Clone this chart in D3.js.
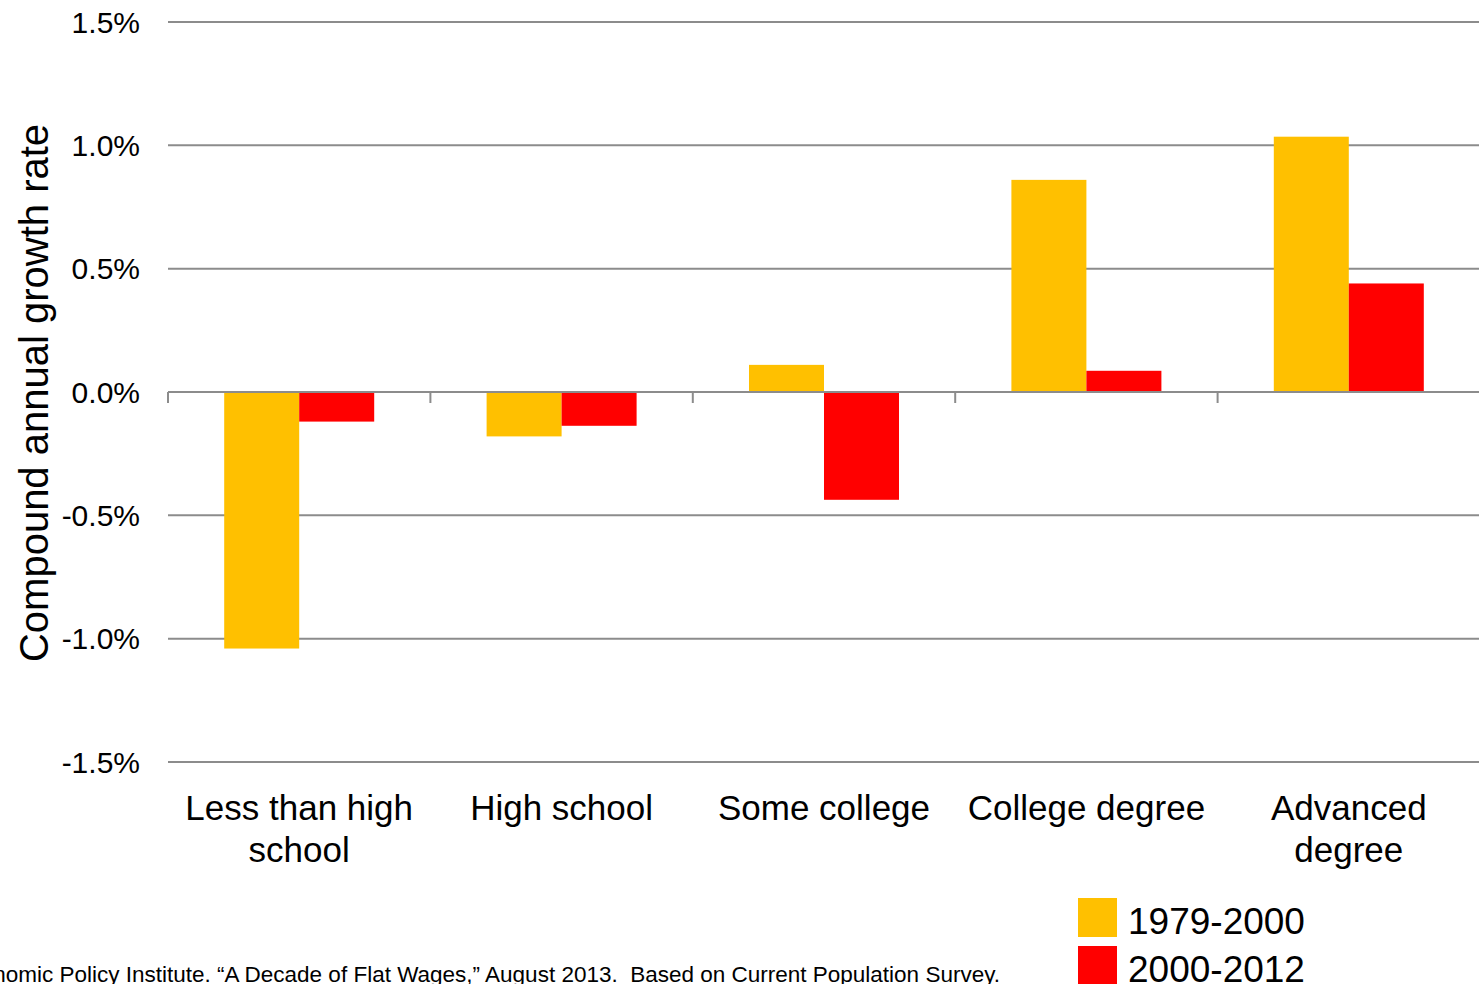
<!DOCTYPE html>
<html>
<head>
<meta charset="utf-8">
<script src="https://cdn.jsdelivr.net/npm/d3@7"></script>
<style>
  html, body { margin: 0; padding: 0; background: #fff; }
  svg { display: block; }
  text { font-family: "Liberation Sans", Arial, sans-serif; fill: #000; }
</style>
</head>
<body>
<svg id="chart" width="1479" height="984"></svg>
<script>
const categories = [["Less than high", "school"], ["High school"], ["Some college"], ["College degree"], ["Advanced", "degree"]];
const seriesNames = ["1979-2000", "2000-2012"];
const series1979 = [-1.04, -0.18, 0.11, 0.86, 1.035];
const series2000 = [-0.12, -0.137, -0.437, 0.086, 0.44];
const tickValues = [-1.5, -1.0, -0.5, 0.0, 0.5, 1.0, 1.5];
const colors = ["#FFC000", "#FF0000"];
const sourceNote = "Source: Economic Policy Institute. \u201CA Decade of Flat Wages,\u201D August 2013.  Based on Current Population Survey.";

const svg = d3.select("#chart");
const plotLeft = 168, plotRight = 1480, plotTop = 22, plotBottom = 762;

const x = d3.scaleBand().domain(d3.range(categories.length)).range([plotLeft, plotRight]).paddingInner(0).paddingOuter(0);
const y = d3.scaleLinear().domain([-1.5, 1.5]).range([plotBottom, plotTop]);
const groupWidth = 150;
const xs = d3.scaleBand().domain(d3.range(seriesNames.length)).range([0, groupWidth]);

// percentage labels with a plain hyphen for negatives
const pct = d => (d < 0 ? "-" : "") + Math.abs(d).toFixed(1) + "%";

// horizontal gridlines
svg.append("g").selectAll("line").data(tickValues.filter(v => v !== 0)).join("line")
  .attr("x1", plotLeft).attr("x2", plotRight)
  .attr("y1", d => y(d)).attr("y2", d => y(d))
  .attr("stroke", "#8c8c8c").attr("stroke-width", 2);

// y tick labels
svg.append("g").selectAll("text").data(tickValues).join("text")
  .attr("x", 140).attr("y", d => y(d))
  .attr("dy", "0.35em")
  .attr("text-anchor", "end")
  .style("font-size", "30px")
  .text(pct);

// bars
const data = categories.map((c, i) => [series1979[i], series2000[i]]);
const groups = svg.append("g").selectAll("g").data(data).join("g")
  .attr("transform", (d, i) => `translate(${x(i) + x.bandwidth() / 2 - groupWidth / 2},0)`);
groups.selectAll("rect").data(d => d.map((v, k) => ({ v, k }))).join("rect")
  .attr("x", d => xs(d.k))
  .attr("width", xs.bandwidth())
  .attr("y", d => Math.min(y(d.v), y(0)))
  .attr("height", d => Math.abs(y(d.v) - y(0)))
  .attr("fill", d => colors[d.k]);

// zero axis with category ticks
const axis = svg.append("g");
axis.append("line").attr("x1", plotLeft).attr("x2", plotRight).attr("y1", y(0)).attr("y2", y(0))
  .attr("stroke", "#8c8c8c").attr("stroke-width", 2);
axis.selectAll("line.tick").data(d3.range(categories.length)).join("line")
  .attr("class", "tick")
  .attr("x1", i => x(i)).attr("x2", i => x(i))
  .attr("y1", y(0)).attr("y2", y(0) + 11)
  .attr("stroke", "#8c8c8c").attr("stroke-width", 2);

// category labels
const catLabels = svg.append("g").selectAll("text").data(categories).join("text")
  .attr("text-anchor", "middle")
  .style("font-size", "35px")
  .attr("transform", (d, i) => `translate(${x(i) + x.bandwidth() / 2},820)`);
catLabels.selectAll("tspan").data(d => d).join("tspan")
  .attr("x", 0).attr("dy", (d, j) => j === 0 ? 0 : 42)
  .text(d => d);

// y axis title
svg.append("text")
  .attr("transform", `translate(48,${(122 + 664) / 2}) rotate(-90)`)
  .attr("text-anchor", "middle")
  .style("font-size", "40px")
  .text("Compound annual growth rate");

// legend
const legend = svg.append("g").selectAll("g").data(seriesNames).join("g")
  .attr("transform", (d, i) => `translate(1078,${898 + i * 48})`);
legend.append("rect").attr("width", 39).attr("height", 39).attr("fill", (d, i) => colors[i]);
legend.append("text").attr("x", 50).attr("y", 36).style("font-size", "37px").text(d => d);

// source note
svg.append("text")
  .attr("x", 1000).attr("y", 982)
  .attr("text-anchor", "end")
  .style("white-space", "pre")
  .style("font-size", "22.5px")
  .text(sourceNote);
</script>
</body>
</html>
